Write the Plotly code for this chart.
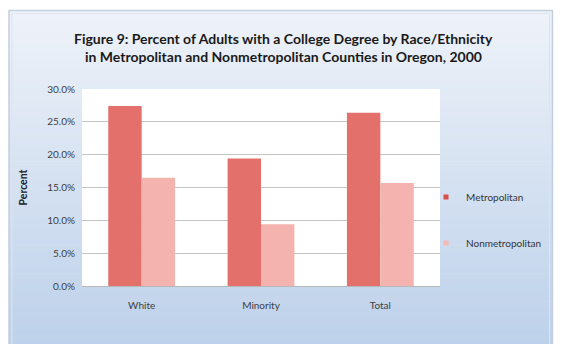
import plotly.graph_objects as go

# Percent of adults with a college degree, Oregon 2000
categories = ["White", "Minority", "Total"]
metropolitan = [27.4, 19.4, 26.4]
nonmetropolitan = [16.5, 9.4, 15.7]
y_ticks = [0, 5, 10, 15, 20, 25, 30]
y_tick_labels = ["0.0%", "5.0%", "10.0%", "15.0%", "20.0%", "25.0%", "30.0%"]

W, H = 562, 344
L, R, T, B = 82, 122, 89, 58
PW, PH = W - L - R, H - T - B

FONT = "Lato"
METRO = "#e3706b"
NONMETRO = "#f4b3af"


def px_x(px):
    return (px - L) / PW


def px_y(py):
    return (H - B - py) / PH


def mix(c1, c2, t):
    a = [int(c1[i:i + 2], 16) for i in (1, 3, 5)]
    b = [int(c2[i:i + 2], 16) for i in (1, 3, 5)]
    return "#" + "".join(f"{round(a[k] + (b[k] - a[k]) * t):02x}" for k in range(3))


fig = go.Figure()

fig.add_trace(go.Bar(x=categories, y=metropolitan, name="Metropolitan",
                     marker=dict(color=METRO, line=dict(width=0)), showlegend=False))
fig.add_trace(go.Bar(x=categories, y=nonmetropolitan, name="Nonmetropolitan",
                     marker=dict(color=NONMETRO, line=dict(width=0)), showlegend=False))

# legend entries with small square swatches
fig.add_trace(go.Scatter(x=[None], y=[None], mode="markers", name="Metropolitan",
                         marker=dict(symbol="square", size=5, color="#d9504a"),
                         legend="legend"))
fig.add_trace(go.Scatter(x=[None], y=[None], mode="markers", name="Nonmetropolitan",
                         marker=dict(symbol="square", size=5, color="#f6b8b4"),
                         legend="legend2"))

shapes = []
# light blue gradient panel behind the chart
top_c, bot_c = "#eef2f9", "#bdd1ea"
y0, y1 = 10, H + 2
n = 60
for i in range(n):
    a = y0 + (y1 - y0) * i / n
    b = y0 + (y1 - y0) * (i + 1) / n + 0.6
    shapes.append(dict(type="rect", xref="paper", yref="paper", layer="below",
                       x0=px_x(9), x1=px_x(553), y0=px_y(b), y1=px_y(a),
                       fillcolor=mix(top_c, bot_c, i / (n - 1)), line=dict(width=0)))
# panel border
shapes.append(dict(type="rect", xref="paper", yref="paper", layer="below",
                   x0=px_x(9), x1=px_x(552.5), y0=px_y(H + 5), y1=px_y(10.5),
                   fillcolor="rgba(0,0,0,0)", line=dict(color="#c3cede", width=1.5)))
shapes.append(dict(type="rect", xref="paper", yref="paper", layer="below",
                   x0=px_x(12), x1=px_x(549.5), y0=px_y(H + 5), y1=px_y(13.5),
                   fillcolor="rgba(0,0,0,0)", line=dict(color="#dde4ee", width=1)))
# white plot area
shapes.append(dict(type="rect", xref="x domain", yref="y domain", layer="below",
                   x0=0, x1=1, y0=0, y1=1, fillcolor="white", line=dict(width=0)))

TITLE_FONT = dict(family=FONT, size=14, color="#1a1a1a")

fig.update_layout(
    width=W, height=H,
    margin=dict(l=L, r=R, t=T, b=B),
    paper_bgcolor="white",
    plot_bgcolor="white",
    barmode="group",
    bargap=0.44,
    bargroupgap=0,
    shapes=shapes,
    font=dict(family=FONT, size=10, color="#404040"),
    annotations=[
        dict(text="<b>Figure 9: Percent of Adults with a College Degree by Race/Ethnicity</b>",
             xref="paper", yref="paper", x=px_x(283), y=px_y(38), showarrow=False,
             xanchor="center", yanchor="middle", font=TITLE_FONT),
        dict(text="<b>in Metropolitan and Nonmetropolitan Counties in Oregon, 2000</b>",
             xref="paper", yref="paper", x=px_x(283), y=px_y(57), showarrow=False,
             xanchor="center", yanchor="middle", font=TITLE_FONT),
    ],
    xaxis=dict(
        showgrid=False, showline=False, zeroline=False, ticks="",
        tickfont=dict(family=FONT, size=10, color="#404040"),
        ticklabelstandoff=12,
    ),
    yaxis=dict(
        range=[0, 30], tickvals=y_ticks, ticktext=y_tick_labels,
        showgrid=True, gridcolor="#c4c4c4", gridwidth=1,
        zeroline=True, zerolinecolor="#b8b8b8", zerolinewidth=1,
        showline=False, ticks="",
        tickfont=dict(family=FONT, size=10, color="#404040"),
        ticklabelstandoff=6,
        title=dict(text="<b>Percent</b>", standoff=17,
                   font=dict(family=FONT, size=10.5, color="#222222")),
    ),
    legend=dict(x=px_x(426), y=px_y(197), xanchor="left", yanchor="middle",
                bgcolor="rgba(0,0,0,0)", font=dict(family=FONT, size=10, color="#333333")),
    legend2=dict(x=px_x(426), y=px_y(243), xanchor="left", yanchor="middle",
                 bgcolor="rgba(0,0,0,0)", font=dict(family=FONT, size=10, color="#333333")),
)

fig.write_html("out.html")
